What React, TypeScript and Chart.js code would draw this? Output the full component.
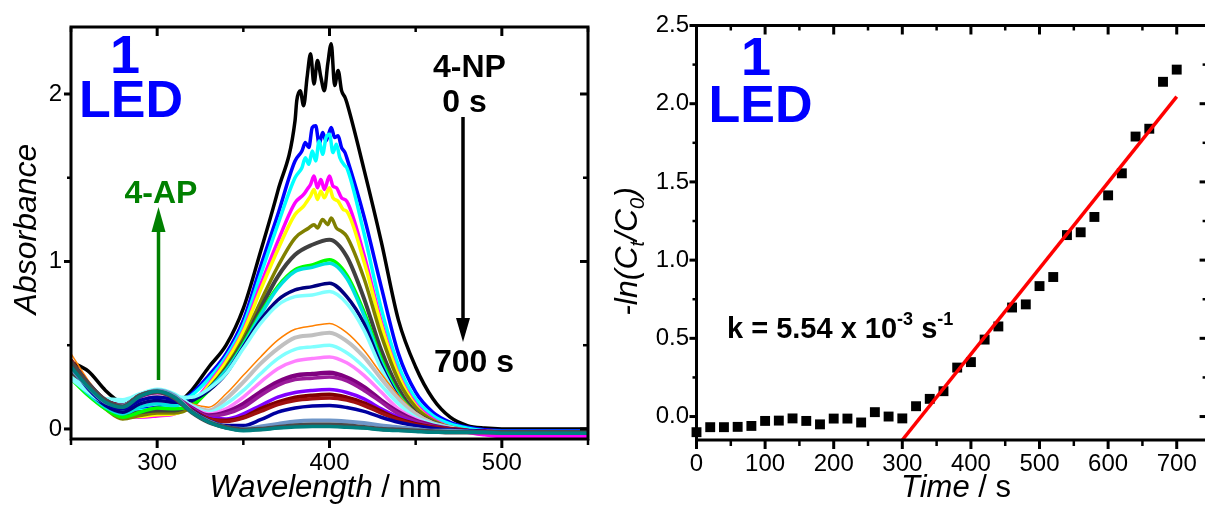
import React, { useEffect, useRef } from 'react';
import { Chart, registerables } from 'chart.js';

Chart.register(...registerables);

const FONT = "'Liberation Sans', Arial, Helvetica, sans-serif";
Chart.defaults.font.family = FONT;

// ---------------- Left panel: UV-vis spectra ----------------
const wavelengths = [250, 260, 270, 280, 290, 300, 310, 320, 330, 340, 350, 360, 370, 380, 390, 400, 410, 420, 430, 440, 450, 460, 470, 480, 490, 500, 550];

const absBlack = [0.40, 0.345, 0.23, 0.15, 0.12, 0.12, 0.14, 0.23, 0.37, 0.50, 0.72, 1.06, 1.42, 1.84, 2.10, 2.15, 1.95, 1.55, 1.12, 0.65, 0.37, 0.18, 0.07, 0.02, 0.005, 0.0, 0.0];
const absBlue = [0.36, 0.24, 0.17, 0.12, 0.12, 0.13, 0.15, 0.21, 0.32, 0.45, 0.65, 0.97, 1.28, 1.60, 1.74, 1.77, 1.62, 1.27, 0.85, 0.45, 0.22, 0.10, 0.04, 0.01, -0.005, -0.01, -0.01];
const absCyan = [0.32, 0.23, 0.15, 0.10, 0.11, 0.12, 0.14, 0.20, 0.30, 0.43, 0.62, 0.92, 1.22, 1.50, 1.66, 1.72, 1.56, 1.17, 0.72, 0.38, 0.18, 0.08, 0.03, 0.005, -0.01, -0.015, -0.015];
const absMagenta = [0.34, 0.22, 0.13, 0.075, 0.07, 0.078, 0.09, 0.15, 0.27, 0.41, 0.59, 0.86, 1.12, 1.35, 1.46, 1.48, 1.36, 1.04, 0.64, 0.33, 0.15, 0.06, 0.01, -0.02, -0.035, -0.045, -0.045];
const absYellow = [0.33, 0.22, 0.13, 0.075, 0.075, 0.085, 0.09, 0.14, 0.26, 0.40, 0.58, 0.83, 1.07, 1.28, 1.38, 1.41, 1.30, 1.00, 0.62, 0.32, 0.14, 0.05, 0.01, -0.01, -0.02, -0.02, -0.02];
const absOlive = [0.32, 0.21, 0.12, 0.06, 0.08, 0.095, 0.095, 0.13, 0.24, 0.37, 0.54, 0.76, 0.97, 1.14, 1.22, 1.24, 1.15, 0.90, 0.56, 0.29, 0.13, 0.05, 0.01, -0.01, -0.015, -0.02, -0.02];
const absDarkGray = [0.35, 0.23, 0.14, 0.09, 0.10, 0.11, 0.11, 0.15, 0.24, 0.36, 0.52, 0.72, 0.91, 1.04, 1.10, 1.13, 1.03, 0.78, 0.47, 0.24, 0.10, 0.04, 0.01, -0.01, -0.015, -0.02, -0.02];
const absGreen = [0.30, 0.20, 0.12, 0.07, 0.10, 0.125, 0.12, 0.14, 0.23, 0.35, 0.51, 0.69, 0.85, 0.95, 0.98, 1.01, 0.92, 0.70, 0.42, 0.21, 0.09, 0.03, 0.0, -0.01, -0.015, -0.02, -0.02];
const absTurquoise = [0.31, 0.21, 0.13, 0.09, 0.13, 0.15, 0.14, 0.17, 0.24, 0.35, 0.50, 0.68, 0.84, 0.94, 0.965, 0.99, 0.90, 0.68, 0.40, 0.20, 0.09, 0.03, 0.0, -0.01, -0.015, -0.02, -0.02];
const absNavy = [0.37, 0.23, 0.14, 0.10, 0.15, 0.17, 0.16, 0.17, 0.23, 0.33, 0.49, 0.65, 0.77, 0.83, 0.85, 0.87, 0.79, 0.63, 0.38, 0.19, 0.08, 0.03, 0.0, -0.01, -0.015, -0.02, -0.02];
const absLightCyan = [0.30, 0.22, 0.16, 0.16, 0.19, 0.20, 0.19, 0.19, 0.24, 0.33, 0.48, 0.63, 0.74, 0.79, 0.80, 0.82, 0.75, 0.59, 0.36, 0.18, 0.08, 0.03, 0.0, -0.01, -0.015, -0.02, -0.02];
const absOrange = [0.45, 0.29, 0.17, 0.13, 0.18, 0.20, 0.19, 0.15, 0.13, 0.21, 0.32, 0.43, 0.53, 0.595, 0.615, 0.63, 0.575, 0.47, 0.33, 0.20, 0.10, 0.04, 0.01, -0.01, -0.015, -0.02, -0.02];
const absSilver = [0.40, 0.27, 0.17, 0.14, 0.19, 0.21, 0.19, 0.14, 0.11, 0.18, 0.28, 0.39, 0.48, 0.545, 0.56, 0.575, 0.525, 0.43, 0.30, 0.18, 0.09, 0.035, 0.01, -0.01, -0.015, -0.02, -0.02];
const absLightCyan2 = [0.31, 0.24, 0.18, 0.175, 0.21, 0.237, 0.21, 0.14, 0.10, 0.15, 0.23, 0.33, 0.42, 0.475, 0.49, 0.50, 0.455, 0.37, 0.26, 0.15, 0.07, 0.03, 0.005, -0.01, -0.015, -0.02, -0.02];
const absPink = [0.38, 0.26, 0.17, 0.14, 0.19, 0.215, 0.19, 0.13, 0.09, 0.12, 0.19, 0.28, 0.36, 0.405, 0.42, 0.43, 0.395, 0.32, 0.22, 0.12, 0.06, 0.02, 0.0, -0.01, -0.015, -0.02, -0.02];
const absPurple = [0.40, 0.27, 0.17, 0.14, 0.195, 0.22, 0.19, 0.125, 0.08, 0.10, 0.15, 0.22, 0.28, 0.318, 0.328, 0.335, 0.307, 0.25, 0.17, 0.10, 0.05, 0.02, 0.0, -0.01, -0.015, -0.02, -0.02];
const absPurple2 = [0.39, 0.26, 0.17, 0.14, 0.195, 0.22, 0.19, 0.125, 0.075, 0.09, 0.13, 0.20, 0.26, 0.295, 0.303, 0.31, 0.287, 0.23, 0.16, 0.09, 0.045, 0.015, 0.0, -0.01, -0.015, -0.02, -0.02];
const absViolet = [0.40, 0.27, 0.17, 0.14, 0.20, 0.225, 0.19, 0.12, 0.065, 0.06, 0.09, 0.14, 0.19, 0.218, 0.23, 0.235, 0.218, 0.18, 0.12, 0.07, 0.035, 0.01, 0.0, -0.01, -0.015, -0.02, -0.02];
const absWine = [0.41, 0.27, 0.17, 0.14, 0.20, 0.225, 0.19, 0.115, 0.06, 0.05, 0.07, 0.12, 0.16, 0.188, 0.20, 0.205, 0.188, 0.155, 0.105, 0.06, 0.03, 0.01, 0.0, -0.01, -0.015, -0.02, -0.02];
const absDarkRed = [0.41, 0.27, 0.17, 0.14, 0.20, 0.225, 0.19, 0.115, 0.06, 0.045, 0.065, 0.105, 0.145, 0.17, 0.181, 0.185, 0.172, 0.14, 0.095, 0.055, 0.025, 0.01, 0.0, -0.01, -0.015, -0.02, -0.02];
const absNavy2 = [0.38, 0.24, 0.15, 0.12, 0.17, 0.19, 0.17, 0.11, 0.05, 0.02, 0.02, 0.055, 0.10, 0.125, 0.137, 0.14, 0.128, 0.105, 0.07, 0.04, 0.02, 0.005, -0.005, -0.01, -0.015, -0.02, -0.02];
const absSteel = [0.36, 0.25, 0.16, 0.14, 0.20, 0.23, 0.20, 0.105, 0.045, 0.01, 0.0, 0.015, 0.03, 0.045, 0.05, 0.05, 0.045, 0.035, 0.02, 0.01, 0.0, -0.01, -0.01, -0.015, -0.02, -0.02, -0.02];
const absDarkGray2 = [0.40, 0.27, 0.17, 0.133, 0.20, 0.222, 0.185, 0.10, 0.04, 0.01, -0.005, 0.0, 0.01, 0.02, 0.025, 0.025, 0.02, 0.01, 0.0, -0.005, -0.01, -0.015, -0.02, -0.02, -0.02, -0.02, -0.02];
const absTeal = [0.37, 0.25, 0.16, 0.13, 0.195, 0.225, 0.19, 0.10, 0.04, 0.005, -0.01, -0.005, 0.005, 0.012, 0.015, 0.015, 0.01, 0.005, -0.005, -0.01, -0.015, -0.02, -0.02, -0.02, -0.02, -0.025, -0.025];

// noisy tops of the first spectra
const peakWlBlack = [381, 383, 385, 387, 389, 391, 393, 395, 397, 399, 401, 403, 405, 407, 409];
const peakAbsBlack = [1.96, 2.02, 1.93, 2.10, 2.24, 2.06, 2.20, 2.10, 2.02, 2.18, 2.30, 2.05, 2.14, 2.02, 1.98];
const peakWlBlue = [384, 386, 388, 390, 392, 394, 396, 398, 401, 403, 405, 407, 409];
const peakAbsBlue = [1.66, 1.71, 1.68, 1.80, 1.81, 1.70, 1.77, 1.72, 1.80, 1.74, 1.75, 1.68, 1.65];
const peakWlCyan = [384, 386, 388, 390, 392, 394, 396, 398, 400, 402, 404, 406, 409];
const peakAbsCyan = [1.56, 1.62, 1.58, 1.66, 1.60, 1.72, 1.64, 1.74, 1.76, 1.65, 1.70, 1.62, 1.57];
const peakWlMagenta = [385, 387, 389, 391, 393, 395, 397, 400, 402, 404, 407];
const peakAbsMagenta = [1.40, 1.43, 1.46, 1.51, 1.44, 1.49, 1.43, 1.51, 1.45, 1.44, 1.38];
const peakWlYellow = [385, 387, 389, 391, 393, 395, 397, 400, 402, 405, 408];
const peakAbsYellow = [1.33, 1.36, 1.39, 1.43, 1.37, 1.42, 1.38, 1.44, 1.38, 1.36, 1.31];
const peakWlOlive = [388, 391, 393, 396, 399, 401, 404, 407];
const peakAbsOlive = [1.20, 1.22, 1.20, 1.25, 1.22, 1.26, 1.20, 1.18];

const spectra = [absBlack, absBlue, absCyan, absMagenta, absYellow, absOlive, absDarkGray, absGreen, absTurquoise, absNavy, absLightCyan, absOrange, absSilver, absLightCyan2, absPink, absPurple, absPurple2, absViolet, absWine, absDarkRed, absNavy2, absSteel, absDarkGray2, absTeal];
const peakWls = [peakWlBlack, peakWlBlue, peakWlCyan, peakWlMagenta, peakWlYellow, peakWlOlive];
const peakAbs = [peakAbsBlack, peakAbsBlue, peakAbsCyan, peakAbsMagenta, peakAbsYellow, peakAbsOlive];

const spectrumColors = ['#000000', '#0000FF', '#00FFFF', '#FF00FF', '#FFFF00', '#808000', '#404040', '#00FF00', '#00E0E0', '#000080', '#80FFFF', '#FF8000', '#C0C0C0', '#80FFFF', '#FF80FF', '#800080', '#9A1A9A', '#8000FF', '#800000', '#A01010', '#0000A0', '#6E96C8', '#4A4A4A', '#008080'];
const spectrumWidths = [3.5, 3.5, 3.5, 3.5, 3.5, 3.5, 4, 3.5, 3.5, 3.5, 3.5, 1.5, 4, 3.5, 3.5, 4.5, 3.5, 3.5, 4, 3.5, 3.5, 4, 4.5, 3.5];

const wlTicks = [300, 400, 500];
const wlMinorTicks = [250, 350, 450, 550];
const absTicks = [0, 1, 2];
const absMinorTicks = [0.5, 1.5];

// ---------------- Right panel: kinetics ----------------
const times = [0, 20, 40, 60, 80, 100, 120, 140, 160, 180, 200, 220, 240, 260, 280, 300, 320, 340, 360, 380, 400, 420, 440, 460, 480, 500, 520, 540, 560, 580, 600, 620, 640, 660, 680, 700];
const lnRatio = [-0.10, -0.068, -0.068, -0.066, -0.06, -0.028, -0.026, -0.012, -0.028, -0.05, -0.013, -0.013, -0.038, 0.028, 0.0, -0.012, 0.066, 0.113, 0.162, 0.313, 0.348, 0.492, 0.576, 0.697, 0.717, 0.834, 0.892, 1.16, 1.178, 1.276, 1.414, 1.555, 1.79, 1.84, 2.14, 2.218];
const fitTimes = [300, 700];
const fitValues = [-0.15, 2.045];

const timeTicks = [0, 100, 200, 300, 400, 500, 600, 700];
const timeMinorTicks = [50, 150, 250, 350, 450, 550, 650];
const lnTicks = [0, 0.5, 1, 1.5, 2, 2.5];
const lnMinorTicks = [0.25, 0.75, 1.25, 1.75, 2.25];

// ---------------- helpers ----------------
type TickSpec = { xMajor: number[]; xMinor: number[]; yMajor: number[]; yMinor: number[] };

function framePlugin(spec: TickSpec) {
  return {
    id: 'frameTicks',
    afterDatasetsDraw(chart: any) {
      const { ctx, chartArea: a, scales } = chart;
      const xs = scales.x;
      const ys = scales.y;
      ctx.save();
      ctx.strokeStyle = '#000';
      ctx.lineCap = 'butt';
      const seg = (x1: number, y1: number, x2: number, y2: number, w: number) => {
        ctx.lineWidth = w;
        ctx.beginPath();
        ctx.moveTo(x1, y1);
        ctx.lineTo(x2, y2);
        ctx.stroke();
      };
      spec.xMajor.forEach((v) => {
        const p = xs.getPixelForValue(v);
        seg(p, a.bottom, p, a.bottom + 9, 3);
        seg(p, a.top, p, a.top + 9, 3);
      });
      spec.xMinor.forEach((v) => {
        const p = xs.getPixelForValue(v);
        seg(p, a.bottom, p, a.bottom + 6, 2.5);
        seg(p, a.top, p, a.top + 5, 2.5);
      });
      spec.yMajor.forEach((v) => {
        const p = ys.getPixelForValue(v);
        seg(a.left, p, a.left - 7, p, 3);
        seg(a.right, p, a.right - 8, p, 3);
      });
      spec.yMinor.forEach((v) => {
        const p = ys.getPixelForValue(v);
        seg(a.left, p, a.left - 4, p, 2.5);
        seg(a.right, p, a.right - 5, p, 2.5);
      });
      ctx.lineWidth = 3;
      ctx.strokeRect(a.left, a.top, a.right - a.left, a.bottom - a.top);
      ctx.restore();
    },
  };
}

type Part = { text: string; font: string; dy?: number };
type Label = { parts: Part[]; x: number; y: number; color: string; align: 'center' | 'left'; rotate?: boolean };
type Arrow = { x: number; from: number; tip: number; color: string; width: number; headLen: number; headW: number };

function annotationPlugin(labels: Label[], arrows: Arrow[]) {
  return {
    id: 'annotations',
    afterDraw(chart: any) {
      const ctx: CanvasRenderingContext2D = chart.ctx;
      ctx.save();
      labels.forEach((l) => {
        let total = 0;
        l.parts.forEach((p) => {
          ctx.font = p.font;
          total += ctx.measureText(p.text).width;
        });
        ctx.save();
        ctx.fillStyle = l.color;
        ctx.textBaseline = 'alphabetic';
        ctx.textAlign = 'left';
        let start: number;
        if (l.rotate) {
          ctx.translate(l.x, l.y);
          ctx.rotate(-Math.PI / 2);
          start = -total / 2;
        } else {
          ctx.translate(0, l.y);
          start = l.align === 'center' ? l.x - total / 2 : l.x;
        }
        let cx = start;
        l.parts.forEach((p) => {
          ctx.font = p.font;
          ctx.fillText(p.text, cx, p.dy || 0);
          cx += ctx.measureText(p.text).width;
        });
        ctx.restore();
      });
      arrows.forEach((ar) => {
        const dir = ar.tip > ar.from ? 1 : -1;
        ctx.strokeStyle = ar.color;
        ctx.fillStyle = ar.color;
        ctx.lineWidth = ar.width;
        ctx.beginPath();
        ctx.moveTo(ar.x, ar.from);
        ctx.lineTo(ar.x, ar.tip - dir * ar.headLen * 0.8);
        ctx.stroke();
        ctx.beginPath();
        ctx.moveTo(ar.x, ar.tip);
        ctx.lineTo(ar.x - ar.headW / 2, ar.tip - dir * ar.headLen);
        ctx.lineTo(ar.x + ar.headW / 2, ar.tip - dir * ar.headLen);
        ctx.closePath();
        ctx.fill();
      });
      ctx.restore();
    },
  };
}

const tickFont = { size: 24, family: FONT };

function buildSpectrumPoints(idx: number) {
  const vals = spectra[idx];
  let pts = wavelengths.map((w, i) => ({ x: w, y: vals[i] }));
  const nw = peakWls[idx];
  if (nw) {
    const lo = nw[0];
    const hi = nw[nw.length - 1];
    pts = pts.filter((p) => p.x < lo || p.x > hi);
    nw.forEach((w, i) => pts.push({ x: w, y: peakAbs[idx][i] }));
    pts.sort((a, b) => a.x - b.x);
  }
  return pts;
}

function leftConfig(): any {
  const n = spectra.length;
  const datasets = spectra.map((_, i) => ({
    data: buildSpectrumPoints(i),
    borderColor: spectrumColors[i],
    borderWidth: spectrumWidths[i],
    pointRadius: 0,
    fill: false,
    cubicInterpolationMode: 'monotone',
    order: n - i,
  }));
  return {
    type: 'line',
    data: { datasets },
    options: {
      animation: false,
      responsive: false,
      events: [],
      layout: { padding: { top: 27, right: 12, left: 0, bottom: 0 } },
      plugins: { legend: { display: false }, tooltip: { enabled: false } },
      scales: {
        x: {
          type: 'linear',
          min: 250,
          max: 550,
          afterFit: (s: any) => { s.height = 69; },
          afterBuildTicks: (s: any) => { s.ticks = wlTicks.map((v) => ({ value: v })); },
          grid: { display: false, drawTicks: false },
          border: { display: false },
          ticks: { font: tickFont, color: '#000', padding: 10, maxRotation: 0, autoSkip: false, callback: (v: any) => String(v) },
        },
        y: {
          type: 'linear',
          min: -0.06,
          max: 2.4,
          afterFit: (s: any) => { s.width = 71; },
          afterBuildTicks: (s: any) => { s.ticks = absTicks.map((v) => ({ value: v })); },
          grid: { display: false, drawTicks: false },
          border: { display: false },
          ticks: { font: tickFont, color: '#000', padding: 9, autoSkip: false, callback: (v: any) => String(v) },
        },
      },
    },
    plugins: [
      framePlugin({ xMajor: wlTicks, xMinor: wlMinorTicks, yMajor: absTicks, yMinor: absMinorTicks }),
      annotationPlugin(
        [
          { parts: [{ text: '1', font: `bold 54px ${FONT}` }], x: 125, y: 73, color: '#0000FF', align: 'center' },
          { parts: [{ text: 'LED', font: `bold 52px ${FONT}` }], x: 131, y: 117, color: '#0000FF', align: 'center' },
          { parts: [{ text: '4-NP', font: `bold 32px ${FONT}` }], x: 469.5, y: 77, color: '#000', align: 'center' },
          { parts: [{ text: '0 s', font: `bold 32px ${FONT}` }], x: 464.5, y: 112, color: '#000', align: 'center' },
          { parts: [{ text: '700 s', font: `bold 32px ${FONT}` }], x: 474, y: 372, color: '#000', align: 'center' },
          { parts: [{ text: '4-AP', font: `bold 32px ${FONT}` }], x: 161, y: 203, color: '#008000', align: 'center' },
          { parts: [{ text: 'Absorbance', font: `italic 32px ${FONT}` }], x: 35.5, y: 229, color: '#000', align: 'center', rotate: true },
          { parts: [{ text: 'Wavelength', font: `italic 31px ${FONT}` }, { text: ' / nm', font: `31px ${FONT}` }], x: 325.5, y: 497, color: '#000', align: 'center' },
        ],
        [
          { x: 463, from: 117, tip: 342, color: '#000', width: 3.5, headLen: 24, headW: 14 },
          { x: 158.5, from: 380, tip: 207, color: '#008000', width: 3.5, headLen: 25, headW: 14 },
        ]
      ),
    ],
  };
}

function rightConfig(): any {
  return {
    type: 'scatter',
    data: {
      datasets: [
        {
          type: 'line',
          data: fitTimes.map((t, i) => ({ x: t, y: fitValues[i] })),
          borderColor: '#FF0000',
          borderWidth: 3.5,
          pointRadius: 0,
          fill: false,
          order: 0,
        },
        {
          type: 'scatter',
          data: times.map((t, i) => ({ x: t, y: lnRatio[i] })),
          pointStyle: 'rect',
          pointRadius: 7,
          backgroundColor: '#000',
          borderWidth: 0,
          clip: false,
          order: 1,
        },
      ],
    },
    options: {
      animation: false,
      responsive: false,
      events: [],
      layout: { padding: { top: 25.5, right: 7.4, left: 0, bottom: 0 } },
      plugins: { legend: { display: false }, tooltip: { enabled: false } },
      scales: {
        x: {
          type: 'linear',
          min: 0,
          max: 745,
          afterFit: (s: any) => { s.height = 68; },
          afterBuildTicks: (s: any) => { s.ticks = timeTicks.map((v) => ({ value: v })); },
          grid: { display: false, drawTicks: false },
          border: { display: false },
          ticks: { font: tickFont, color: '#000', padding: 10, maxRotation: 0, autoSkip: false, callback: (v: any) => String(v) },
        },
        y: {
          type: 'linear',
          min: -0.15,
          max: 2.5,
          afterFit: (s: any) => { s.width = 96.5; },
          afterBuildTicks: (s: any) => { s.ticks = lnTicks.map((v) => ({ value: v })); },
          grid: { display: false, drawTicks: false },
          border: { display: false },
          ticks: { font: tickFont, color: '#000', padding: 7.5, autoSkip: false, callback: (v: any) => Number(v).toFixed(1) },
        },
      },
    },
    plugins: [
      framePlugin({ xMajor: timeTicks, xMinor: timeMinorTicks, yMajor: lnTicks, yMinor: lnMinorTicks }),
      annotationPlugin(
        [
          { parts: [{ text: '1', font: `bold 54px ${FONT}` }], x: 156, y: 75, color: '#0000FF', align: 'center' },
          { parts: [{ text: 'LED', font: `bold 52px ${FONT}` }], x: 160.5, y: 122, color: '#0000FF', align: 'center' },
          {
            parts: [
              { text: 'k = 5.54 x 10', font: `bold 29px ${FONT}` },
              { text: '-3', font: `bold 18px ${FONT}`, dy: -13 },
              { text: ' s', font: `bold 29px ${FONT}` },
              { text: '-1', font: `bold 18px ${FONT}`, dy: -13 },
            ],
            x: 127, y: 338, color: '#000', align: 'left',
          },
          {
            parts: [
              { text: '-ln(C', font: `italic 32px ${FONT}` },
              { text: 't', font: `italic 20px ${FONT}`, dy: 7 },
              { text: '/C', font: `italic 32px ${FONT}` },
              { text: '0', font: `italic 20px ${FONT}`, dy: 7 },
              { text: ')', font: `italic 32px ${FONT}` },
            ],
            x: 37, y: 251.5, color: '#000', align: 'center', rotate: true,
          },
          { parts: [{ text: 'Time', font: `italic 31px ${FONT}` }, { text: ' / s', font: `31px ${FONT}` }], x: 356, y: 497, color: '#000', align: 'center' },
        ],
        []
      ),
    ],
  };
}

export default function App() {
  const leftRef = useRef<HTMLCanvasElement>(null);
  const rightRef = useRef<HTMLCanvasElement>(null);
  useEffect(() => {
    const left = new Chart(leftRef.current as HTMLCanvasElement, leftConfig());
    const right = new Chart(rightRef.current as HTMLCanvasElement, rightConfig());
    return () => {
      left.destroy();
      right.destroy();
    };
  }, []);
  return (
    <div style={{ position: 'absolute', left: 0, top: 0, width: 1205, height: 508, overflow: 'hidden', background: '#fff' }}>
      <canvas ref={leftRef} width={600} height={508} style={{ position: 'absolute', left: 0, top: 0, width: 600, height: 508 }} />
      <canvas ref={rightRef} width={615} height={508} style={{ position: 'absolute', left: 600, top: 0, width: 615, height: 508 }} />
    </div>
  );
}
